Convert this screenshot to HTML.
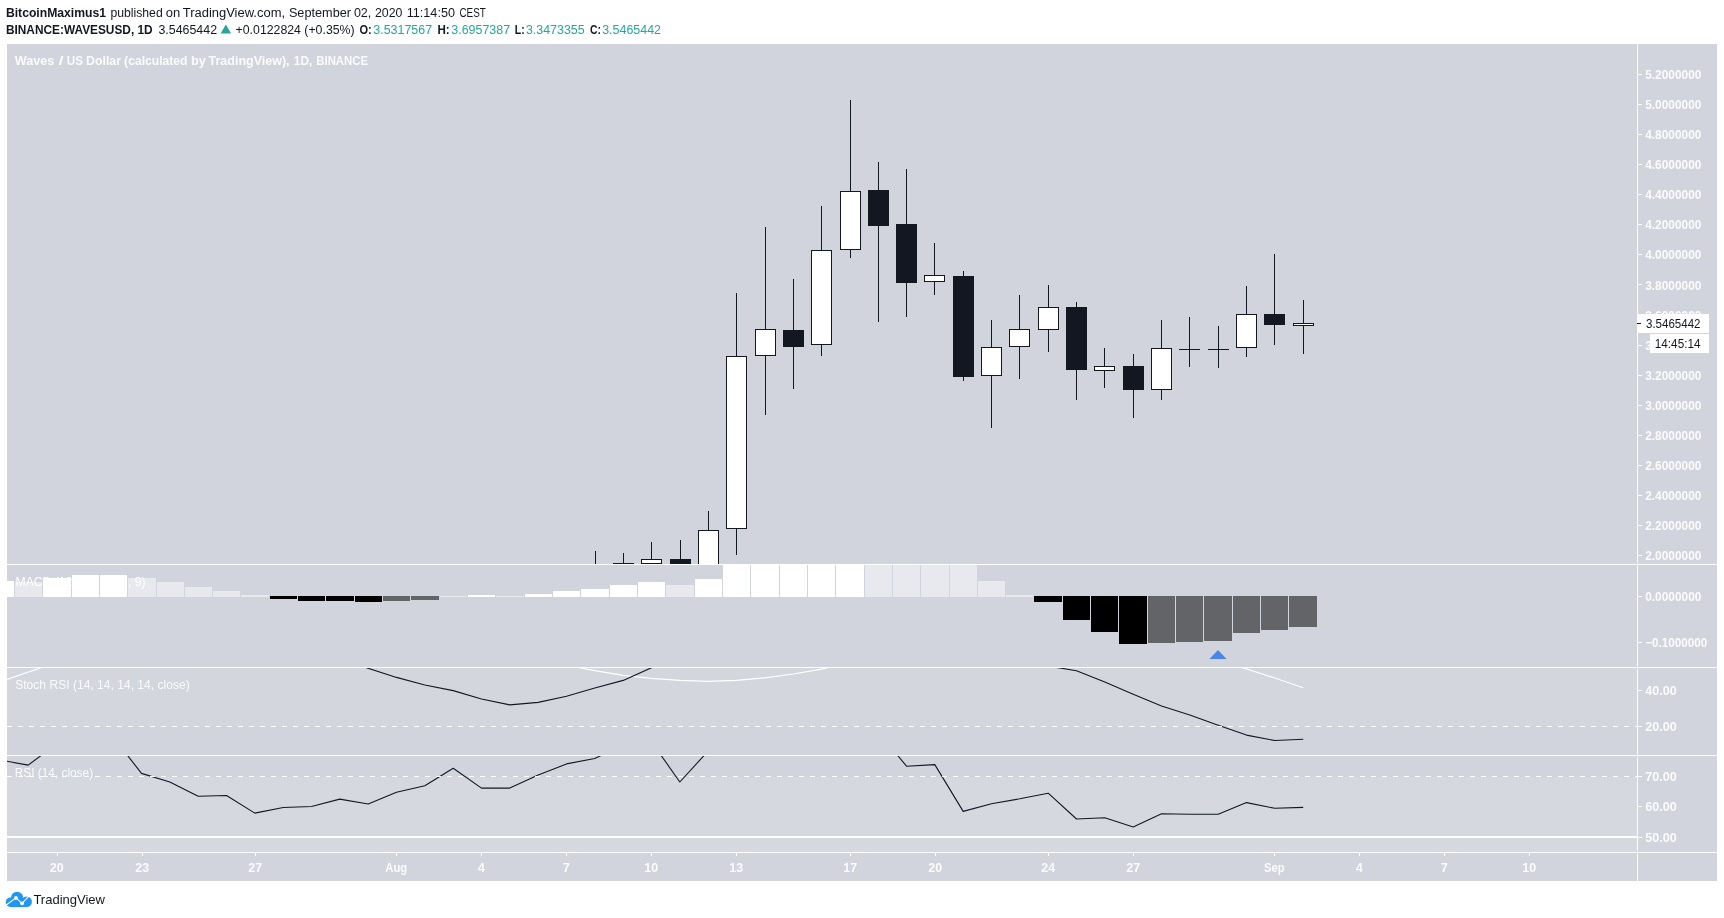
<!DOCTYPE html>
<html lang="en">
<head>
<meta charset="utf-8">
<title>WAVESUSD chart - TradingView</title>
<style>
html, body { margin: 0; padding: 0; background: #ffffff; }
body { width: 1724px; height: 918px; overflow: hidden; font-family: "Liberation Sans", sans-serif; }
svg { display: block; font-family: "Liberation Sans", sans-serif; will-change: transform; }
text { white-space: pre; }
</style>
</head>
<body>
<svg width="1724" height="918" viewBox="0 0 1724 918">
<defs>
<clipPath id="cpMain"><rect x="7" y="44" width="1630" height="520"/></clipPath>
<clipPath id="cpStoch"><rect x="7" y="668" width="1630" height="87"/></clipPath>
<clipPath id="cpRsi"><rect x="7" y="756" width="1630" height="96"/></clipPath>
</defs>
<rect x="7" y="44" width="1710" height="837" fill="#d1d4dc" />
<rect x="7" y="668" width="1630" height="58" fill="#ffffff" opacity="0.05"/>
<rect x="7" y="777" width="1630" height="75" fill="#ffffff" opacity="0.11"/>
<g shape-rendering="crispEdges">
<rect x="7" y="581" width="7" height="16" fill="#ffffff" />
<rect x="15" y="582" width="27" height="15" fill="#e8e9ee" />
<rect x="43" y="578" width="28" height="19" fill="#ffffff" />
<rect x="72" y="575" width="27" height="22" fill="#ffffff" />
<rect x="100" y="575" width="27" height="22" fill="#ffffff" />
<rect x="128" y="578" width="28" height="19" fill="#e8e9ee" />
<rect x="157" y="582" width="27" height="15" fill="#e8e9ee" />
<rect x="185" y="587" width="27" height="10" fill="#e8e9ee" />
<rect x="213" y="591" width="27" height="6" fill="#e8e9ee" />
<rect x="241" y="595" width="28" height="2" fill="#e8e9ee" />
<rect x="270" y="596" width="27" height="3" fill="#000000" />
<rect x="298" y="596" width="27" height="5" fill="#000000" />
<rect x="326" y="596" width="28" height="5" fill="#000000" />
<rect x="355" y="596" width="27" height="6" fill="#000000" />
<rect x="383" y="596" width="27" height="5" fill="#636468" />
<rect x="411" y="596" width="28" height="4" fill="#636468" />
<rect x="440" y="596" width="27" height="1" fill="#e8e9ee" />
<rect x="468" y="595" width="27" height="2" fill="#ffffff" />
<rect x="496" y="596" width="28" height="1" fill="#e8e9ee" />
<rect x="525" y="594" width="27" height="3" fill="#ffffff" />
<rect x="553" y="591" width="27" height="6" fill="#ffffff" />
<rect x="581" y="589" width="28" height="8" fill="#ffffff" />
<rect x="610" y="585" width="27" height="12" fill="#ffffff" />
<rect x="638" y="582" width="27" height="15" fill="#ffffff" />
<rect x="666" y="585" width="28" height="12" fill="#e8e9ee" />
<rect x="695" y="579" width="27" height="18" fill="#ffffff" />
<rect x="723" y="565" width="27" height="32" fill="#ffffff" />
<rect x="751" y="565" width="28" height="32" fill="#ffffff" />
<rect x="780" y="565" width="27" height="32" fill="#ffffff" />
<rect x="808" y="565" width="27" height="32" fill="#ffffff" />
<rect x="836" y="565" width="28" height="32" fill="#ffffff" />
<rect x="865" y="565" width="27" height="32" fill="#e8e9ee" />
<rect x="893" y="565" width="27" height="32" fill="#e8e9ee" />
<rect x="921" y="565" width="28" height="32" fill="#e8e9ee" />
<rect x="950" y="565" width="27" height="32" fill="#e8e9ee" />
<rect x="978" y="581" width="27" height="16" fill="#e8e9ee" />
<rect x="1006" y="595" width="27" height="2" fill="#e8e9ee" />
<rect x="1034" y="596" width="28" height="6" fill="#000000" />
<rect x="1063" y="596" width="27" height="24" fill="#000000" />
<rect x="1091" y="596" width="27" height="36" fill="#000000" />
<rect x="1119" y="596" width="28" height="48" fill="#000000" />
<rect x="1148" y="596" width="27" height="47" fill="#636468" />
<rect x="1176" y="596" width="27" height="46" fill="#636468" />
<rect x="1204" y="596" width="28" height="45" fill="#636468" />
<rect x="1233" y="596" width="27" height="37" fill="#636468" />
<rect x="1261" y="596" width="27" height="34" fill="#636468" />
<rect x="1289" y="596" width="28" height="31" fill="#636468" />
</g>
<text x="15.5" y="586" font-size="12.5" font-weight="normal" fill="#ffffff" text-anchor="start" textLength="130" lengthAdjust="spacingAndGlyphs" >MACD (12, 26, close, 9)</text>
<path d="M1218 650 L1226.5 659 L1209.5 659 Z" fill="#4985e7"/>
<g shape-rendering="crispEdges" clip-path="url(#cpMain)">
<rect x="595" y="551" width="1" height="13" fill="#131722" />
<rect x="623" y="553" width="1" height="11" fill="#131722" />
<rect x="613" y="563" width="21" height="1" fill="#131722" />
<rect x="651" y="542" width="1" height="22" fill="#131722" />
<rect x="641" y="559" width="21" height="5" fill="#131722" />
<rect x="642" y="560" width="19" height="3" fill="#ffffff" />
<rect x="680" y="540" width="1" height="24" fill="#131722" />
<rect x="670" y="559" width="21" height="5" fill="#131722" />
<rect x="708" y="511" width="1" height="55" fill="#131722" />
<rect x="698" y="530" width="21" height="36" fill="#131722" />
<rect x="699" y="531" width="19" height="34" fill="#ffffff" />
<rect x="736" y="293" width="1" height="262" fill="#131722" />
<rect x="726" y="356" width="21" height="173" fill="#131722" />
<rect x="727" y="357" width="19" height="171" fill="#ffffff" />
<rect x="765" y="227" width="1" height="188" fill="#131722" />
<rect x="755" y="329" width="21" height="27" fill="#131722" />
<rect x="756" y="330" width="19" height="25" fill="#ffffff" />
<rect x="793" y="279" width="1" height="110" fill="#131722" />
<rect x="783" y="330" width="21" height="17" fill="#131722" />
<rect x="821" y="206" width="1" height="150" fill="#131722" />
<rect x="811" y="250" width="21" height="95" fill="#131722" />
<rect x="812" y="251" width="19" height="93" fill="#ffffff" />
<rect x="850" y="100" width="1" height="158" fill="#131722" />
<rect x="840" y="191" width="21" height="59" fill="#131722" />
<rect x="841" y="192" width="19" height="57" fill="#ffffff" />
<rect x="878" y="162" width="1" height="160" fill="#131722" />
<rect x="868" y="190" width="21" height="36" fill="#131722" />
<rect x="906" y="169" width="1" height="148" fill="#131722" />
<rect x="896" y="224" width="21" height="59" fill="#131722" />
<rect x="934" y="243" width="1" height="52" fill="#131722" />
<rect x="924" y="275" width="21" height="7" fill="#131722" />
<rect x="925" y="276" width="19" height="5" fill="#ffffff" />
<rect x="963" y="271" width="1" height="110" fill="#131722" />
<rect x="953" y="276" width="21" height="101" fill="#131722" />
<rect x="991" y="320" width="1" height="108" fill="#131722" />
<rect x="981" y="347" width="21" height="29" fill="#131722" />
<rect x="982" y="348" width="19" height="27" fill="#ffffff" />
<rect x="1019" y="295" width="1" height="84" fill="#131722" />
<rect x="1009" y="329" width="21" height="18" fill="#131722" />
<rect x="1010" y="330" width="19" height="16" fill="#ffffff" />
<rect x="1048" y="285" width="1" height="67" fill="#131722" />
<rect x="1038" y="307" width="21" height="23" fill="#131722" />
<rect x="1039" y="308" width="19" height="21" fill="#ffffff" />
<rect x="1076" y="302" width="1" height="98" fill="#131722" />
<rect x="1066" y="307" width="21" height="63" fill="#131722" />
<rect x="1104" y="348" width="1" height="40" fill="#131722" />
<rect x="1094" y="366" width="21" height="5" fill="#131722" />
<rect x="1095" y="367" width="19" height="3" fill="#ffffff" />
<rect x="1133" y="354" width="1" height="64" fill="#131722" />
<rect x="1123" y="366" width="21" height="24" fill="#131722" />
<rect x="1161" y="320" width="1" height="80" fill="#131722" />
<rect x="1151" y="348" width="21" height="42" fill="#131722" />
<rect x="1152" y="349" width="19" height="40" fill="#ffffff" />
<rect x="1189" y="317" width="1" height="50" fill="#131722" />
<rect x="1179" y="349" width="21" height="1" fill="#131722" />
<rect x="1218" y="326" width="1" height="42" fill="#131722" />
<rect x="1208" y="349" width="21" height="1" fill="#131722" />
<rect x="1246" y="286" width="1" height="71" fill="#131722" />
<rect x="1236" y="314" width="21" height="34" fill="#131722" />
<rect x="1237" y="315" width="19" height="32" fill="#ffffff" />
<rect x="1274" y="254" width="1" height="91" fill="#131722" />
<rect x="1264" y="314" width="21" height="11" fill="#131722" />
<rect x="1303" y="300" width="1" height="54" fill="#131722" />
<rect x="1293" y="323" width="21" height="3" fill="#131722" />
<rect x="1294" y="324" width="19" height="1" fill="#ffffff" />
</g>
<polyline points="7.0,679.4 41.8,667.5 60.0,661.0" fill="none" stroke="#ffffff" stroke-width="1.2" stroke-linejoin="round" stroke-linecap="butt" clip-path="url(#cpStoch)"/>
<polyline points="565.0,660.0 579.5,667.7 594.8,670.7 623.2,675.3 651.5,678.4 679.8,680.4 708.2,681.4 736.5,680.4 764.8,677.9 793.2,674.0 821.5,669.2 828.5,667.5 849.8,662.0" fill="none" stroke="#ffffff" stroke-width="1.2" stroke-linejoin="round" stroke-linecap="butt" clip-path="url(#cpStoch)"/>
<polyline points="1220.0,660.0 1242.5,667.6 1274.8,678.0 1303.3,687.7" fill="none" stroke="#ffffff" stroke-width="1.2" stroke-linejoin="round" stroke-linecap="butt" clip-path="url(#cpStoch)"/>
<polyline points="340.0,658.0 366.4,667.7 396.5,677.4 424.8,685.0 453.2,690.6 481.5,699.0 509.8,704.9 538.2,702.4 566.5,696.2 594.8,688.0 623.2,680.4 651.5,667.7 679.8,655.0" fill="none" stroke="#131722" stroke-width="1.1" stroke-linejoin="round" stroke-linecap="butt" clip-path="url(#cpStoch)"/>
<polyline points="1030.0,664.0 1058.2,667.7 1076.5,670.7 1104.8,682.0 1133.2,694.2 1161.5,705.9 1189.8,714.9 1218.2,725.3 1246.5,735.1 1274.8,740.5 1303.2,739.3" fill="none" stroke="#131722" stroke-width="1.1" stroke-linejoin="round" stroke-linecap="butt" clip-path="url(#cpStoch)"/>
<polyline points="7.0,761.3 28.2,765.1 56.5,744.0 84.8,735.0 113.2,737.0 141.5,773.4 169.8,782.0 198.2,796.3 226.5,795.5 254.8,813.1 283.2,807.5 311.5,806.5 339.8,799.1 368.2,804.0 396.5,792.2 424.8,785.8 453.2,768.2 481.5,788.1 509.8,788.1 538.2,774.9 566.5,763.9 594.8,758.5 623.2,744.8 651.5,741.7 679.8,782.0 708.2,751.0 736.5,720.0 849.8,700.0 878.2,731.7 906.5,766.2 934.8,764.6 963.2,811.4 991.5,803.7 1019.8,798.8 1048.2,793.2 1076.5,819.0 1104.8,817.7 1133.2,826.9 1161.5,813.7 1189.8,814.2 1218.2,814.3 1246.5,802.6 1274.8,808.3 1303.2,807.4" fill="none" stroke="#131722" stroke-width="1.1" stroke-linejoin="round" stroke-linecap="butt" clip-path="url(#cpRsi)"/>
<g shape-rendering="crispEdges" fill="#ffffff">
<rect x="7" y="564" width="1710" height="1" fill="#ffffff" />
<rect x="7" y="667" width="1710" height="1" fill="#ffffff" />
<rect x="7" y="755" width="1710" height="1" fill="#ffffff" />
<rect x="7" y="852" width="1710" height="1" fill="#ffffff" />
<rect x="1637" y="44" width="1" height="837" fill="#ffffff" />
<rect x="7" y="836" width="1630" height="2" fill="#ffffff" />
</g>
<path d="M7 726.5 H1637" stroke="#ffffff" stroke-width="1" stroke-dasharray="5 6" shape-rendering="crispEdges"/>
<path d="M7 776.5 H1637" stroke="#ffffff" stroke-width="1" stroke-dasharray="5 6" shape-rendering="crispEdges"/>
<g shape-rendering="crispEdges">
<rect x="1638" y="74" width="4" height="1" fill="#ffffff" />
<rect x="1638" y="104" width="4" height="1" fill="#ffffff" />
<rect x="1638" y="134" width="4" height="1" fill="#ffffff" />
<rect x="1638" y="164" width="4" height="1" fill="#ffffff" />
<rect x="1638" y="194" width="4" height="1" fill="#ffffff" />
<rect x="1638" y="224" width="4" height="1" fill="#ffffff" />
<rect x="1638" y="254" width="4" height="1" fill="#ffffff" />
<rect x="1638" y="284" width="4" height="1" fill="#ffffff" />
<rect x="1638" y="314" width="4" height="1" fill="#ffffff" />
<rect x="1638" y="345" width="4" height="1" fill="#ffffff" />
<rect x="1638" y="375" width="4" height="1" fill="#ffffff" />
<rect x="1638" y="405" width="4" height="1" fill="#ffffff" />
<rect x="1638" y="435" width="4" height="1" fill="#ffffff" />
<rect x="1638" y="465" width="4" height="1" fill="#ffffff" />
<rect x="1638" y="495" width="4" height="1" fill="#ffffff" />
<rect x="1638" y="525" width="4" height="1" fill="#ffffff" />
<rect x="1638" y="555" width="4" height="1" fill="#ffffff" />
<rect x="1638" y="596" width="4" height="1" fill="#ffffff" />
<rect x="1638" y="642" width="4" height="1" fill="#ffffff" />
<rect x="1638" y="690" width="4" height="1" fill="#ffffff" />
<rect x="1638" y="726" width="4" height="1" fill="#ffffff" />
<rect x="1638" y="776" width="4" height="1" fill="#ffffff" />
<rect x="1638" y="806" width="4" height="1" fill="#ffffff" />
<rect x="1638" y="837" width="4" height="1" fill="#ffffff" />
</g>
<text x="1645.2" y="79.1" font-size="12.3" font-weight="bold" fill="#fbfbfd" text-anchor="start" textLength="56.2" lengthAdjust="spacingAndGlyphs" >5.2000000</text>
<text x="1645.2" y="109.16" font-size="12.3" font-weight="bold" fill="#fbfbfd" text-anchor="start" textLength="56.2" lengthAdjust="spacingAndGlyphs" >5.0000000</text>
<text x="1645.2" y="139.22" font-size="12.3" font-weight="bold" fill="#fbfbfd" text-anchor="start" textLength="56.2" lengthAdjust="spacingAndGlyphs" >4.8000000</text>
<text x="1645.2" y="169.28" font-size="12.3" font-weight="bold" fill="#fbfbfd" text-anchor="start" textLength="56.2" lengthAdjust="spacingAndGlyphs" >4.6000000</text>
<text x="1645.2" y="199.34" font-size="12.3" font-weight="bold" fill="#fbfbfd" text-anchor="start" textLength="56.2" lengthAdjust="spacingAndGlyphs" >4.4000000</text>
<text x="1645.2" y="229.4" font-size="12.3" font-weight="bold" fill="#fbfbfd" text-anchor="start" textLength="56.2" lengthAdjust="spacingAndGlyphs" >4.2000000</text>
<text x="1645.2" y="259.46" font-size="12.3" font-weight="bold" fill="#fbfbfd" text-anchor="start" textLength="56.2" lengthAdjust="spacingAndGlyphs" >4.0000000</text>
<text x="1645.2" y="289.52" font-size="12.3" font-weight="bold" fill="#fbfbfd" text-anchor="start" textLength="56.2" lengthAdjust="spacingAndGlyphs" >3.8000000</text>
<text x="1645.2" y="319.58" font-size="12.3" font-weight="bold" fill="#fbfbfd" text-anchor="start" textLength="56.2" lengthAdjust="spacingAndGlyphs" >3.6000000</text>
<text x="1645.2" y="349.64" font-size="12.3" font-weight="bold" fill="#fbfbfd" text-anchor="start" textLength="56.2" lengthAdjust="spacingAndGlyphs" >3.4000000</text>
<text x="1645.2" y="379.7" font-size="12.3" font-weight="bold" fill="#fbfbfd" text-anchor="start" textLength="56.2" lengthAdjust="spacingAndGlyphs" >3.2000000</text>
<text x="1645.2" y="409.76" font-size="12.3" font-weight="bold" fill="#fbfbfd" text-anchor="start" textLength="56.2" lengthAdjust="spacingAndGlyphs" >3.0000000</text>
<text x="1645.2" y="439.82" font-size="12.3" font-weight="bold" fill="#fbfbfd" text-anchor="start" textLength="56.2" lengthAdjust="spacingAndGlyphs" >2.8000000</text>
<text x="1645.2" y="469.88" font-size="12.3" font-weight="bold" fill="#fbfbfd" text-anchor="start" textLength="56.2" lengthAdjust="spacingAndGlyphs" >2.6000000</text>
<text x="1645.2" y="499.94" font-size="12.3" font-weight="bold" fill="#fbfbfd" text-anchor="start" textLength="56.2" lengthAdjust="spacingAndGlyphs" >2.4000000</text>
<text x="1645.2" y="530" font-size="12.3" font-weight="bold" fill="#fbfbfd" text-anchor="start" textLength="56.2" lengthAdjust="spacingAndGlyphs" >2.2000000</text>
<text x="1645.2" y="560.06" font-size="12.3" font-weight="bold" fill="#fbfbfd" text-anchor="start" textLength="56.2" lengthAdjust="spacingAndGlyphs" >2.0000000</text>
<text x="1645.2" y="601.1" font-size="12.3" font-weight="bold" fill="#fbfbfd" text-anchor="start" textLength="56.2" lengthAdjust="spacingAndGlyphs" >0.0000000</text>
<text x="1645.2" y="647.1" font-size="12.3" font-weight="bold" fill="#fbfbfd" text-anchor="start" textLength="62.2" lengthAdjust="spacingAndGlyphs" >−0.1000000</text>
<text x="1645.2" y="695.3" font-size="12.3" font-weight="bold" fill="#fbfbfd" text-anchor="start" textLength="31.6" lengthAdjust="spacingAndGlyphs" >40.00</text>
<text x="1645.2" y="731.1" font-size="12.3" font-weight="bold" fill="#fbfbfd" text-anchor="start" textLength="31.6" lengthAdjust="spacingAndGlyphs" >20.00</text>
<text x="1645.2" y="781.1" font-size="12.3" font-weight="bold" fill="#fbfbfd" text-anchor="start" textLength="31.6" lengthAdjust="spacingAndGlyphs" >70.00</text>
<text x="1645.2" y="811.4" font-size="12.3" font-weight="bold" fill="#fbfbfd" text-anchor="start" textLength="31.6" lengthAdjust="spacingAndGlyphs" >60.00</text>
<text x="1645.2" y="842.1" font-size="12.3" font-weight="bold" fill="#fbfbfd" text-anchor="start" textLength="31.6" lengthAdjust="spacingAndGlyphs" >50.00</text>
<rect x="1638" y="314" width="71" height="19" fill="#ffffff" shape-rendering="crispEdges"/>
<rect x="1637" y="323" width="4" height="1" fill="#131722" shape-rendering="crispEdges"/>
<text x="1646" y="327.7" font-size="12" font-weight="normal" fill="#131722" text-anchor="start" textLength="54.5" lengthAdjust="spacingAndGlyphs" >3.5465442</text>
<rect x="1650" y="334" width="59" height="19" fill="#ffffff" shape-rendering="crispEdges"/>
<text x="1654.8" y="348.1" font-size="12" font-weight="normal" fill="#131722" text-anchor="start" textLength="45.7" lengthAdjust="spacingAndGlyphs" >14:45:14</text>
<g shape-rendering="crispEdges">
<rect x="57" y="853" width="1" height="3" fill="#ffffff" />
<rect x="142" y="853" width="1" height="3" fill="#ffffff" />
<rect x="255" y="853" width="1" height="3" fill="#ffffff" />
<rect x="396" y="853" width="1" height="3" fill="#ffffff" />
<rect x="481" y="853" width="1" height="3" fill="#ffffff" />
<rect x="566" y="853" width="1" height="3" fill="#ffffff" />
<rect x="651" y="853" width="1" height="3" fill="#ffffff" />
<rect x="736" y="853" width="1" height="3" fill="#ffffff" />
<rect x="850" y="853" width="1" height="3" fill="#ffffff" />
<rect x="935" y="853" width="1" height="3" fill="#ffffff" />
<rect x="1048" y="853" width="1" height="3" fill="#ffffff" />
<rect x="1133" y="853" width="1" height="3" fill="#ffffff" />
<rect x="1274" y="853" width="1" height="3" fill="#ffffff" />
<rect x="1359" y="853" width="1" height="3" fill="#ffffff" />
<rect x="1444" y="853" width="1" height="3" fill="#ffffff" />
<rect x="1529" y="853" width="1" height="3" fill="#ffffff" />
</g>
<text x="56.7" y="872" font-size="12.8" font-weight="bold" fill="#fbfbfd" text-anchor="middle" textLength="13.9" lengthAdjust="spacingAndGlyphs" >20</text>
<text x="142.3" y="872" font-size="12.8" font-weight="bold" fill="#fbfbfd" text-anchor="middle" textLength="13.9" lengthAdjust="spacingAndGlyphs" >23</text>
<text x="255.3" y="872" font-size="12.8" font-weight="bold" fill="#fbfbfd" text-anchor="middle" textLength="13.9" lengthAdjust="spacingAndGlyphs" >27</text>
<text x="396.3" y="872" font-size="12.8" font-weight="bold" fill="#fbfbfd" text-anchor="middle" textLength="21.9" lengthAdjust="spacingAndGlyphs" >Aug</text>
<text x="481.3" y="872" font-size="12.8" font-weight="bold" fill="#fbfbfd" text-anchor="middle" >4</text>
<text x="566.3" y="872" font-size="12.8" font-weight="bold" fill="#fbfbfd" text-anchor="middle" >7</text>
<text x="651.3" y="872" font-size="12.8" font-weight="bold" fill="#fbfbfd" text-anchor="middle" textLength="13.9" lengthAdjust="spacingAndGlyphs" >10</text>
<text x="736.3" y="872" font-size="12.8" font-weight="bold" fill="#fbfbfd" text-anchor="middle" textLength="13.9" lengthAdjust="spacingAndGlyphs" >13</text>
<text x="850.3" y="872" font-size="12.8" font-weight="bold" fill="#fbfbfd" text-anchor="middle" textLength="13.9" lengthAdjust="spacingAndGlyphs" >17</text>
<text x="935.3" y="872" font-size="12.8" font-weight="bold" fill="#fbfbfd" text-anchor="middle" textLength="13.9" lengthAdjust="spacingAndGlyphs" >20</text>
<text x="1048.3" y="872" font-size="12.8" font-weight="bold" fill="#fbfbfd" text-anchor="middle" textLength="13.9" lengthAdjust="spacingAndGlyphs" >24</text>
<text x="1133.3" y="872" font-size="12.8" font-weight="bold" fill="#fbfbfd" text-anchor="middle" textLength="13.9" lengthAdjust="spacingAndGlyphs" >27</text>
<text x="1274.3" y="872" font-size="12.8" font-weight="bold" fill="#fbfbfd" text-anchor="middle" textLength="20.7" lengthAdjust="spacingAndGlyphs" >Sep</text>
<text x="1359.3" y="872" font-size="12.8" font-weight="bold" fill="#fbfbfd" text-anchor="middle" >4</text>
<text x="1444.3" y="872" font-size="12.8" font-weight="bold" fill="#fbfbfd" text-anchor="middle" >7</text>
<text x="1529.3" y="872" font-size="12.8" font-weight="bold" fill="#fbfbfd" text-anchor="middle" textLength="13.9" lengthAdjust="spacingAndGlyphs" >10</text>
<text x="14.8" y="65.2" font-size="12.5" font-weight="bold" fill="#fbfbfd" text-anchor="start" textLength="39.6" lengthAdjust="spacingAndGlyphs" >Waves</text>
<text x="58.4" y="65.2" font-size="12.5" font-weight="bold" fill="#fbfbfd" text-anchor="start" textLength="5.2" lengthAdjust="spacingAndGlyphs" >/</text>
<text x="66.8" y="65.2" font-size="12.5" font-weight="bold" fill="#fbfbfd" text-anchor="start" textLength="16.3" lengthAdjust="spacingAndGlyphs" >US</text>
<text x="86" y="65.2" font-size="12.5" font-weight="bold" fill="#fbfbfd" text-anchor="start" textLength="35" lengthAdjust="spacingAndGlyphs" >Dollar</text>
<text x="124.1" y="65.2" font-size="12.5" font-weight="bold" fill="#fbfbfd" text-anchor="start" textLength="63.4" lengthAdjust="spacingAndGlyphs" >(calculated</text>
<text x="190.9" y="65.2" font-size="12.5" font-weight="bold" fill="#fbfbfd" text-anchor="start" textLength="14.9" lengthAdjust="spacingAndGlyphs" >by</text>
<text x="208.5" y="65.2" font-size="12.5" font-weight="bold" fill="#fbfbfd" text-anchor="start" textLength="81.1" lengthAdjust="spacingAndGlyphs" >TradingView),</text>
<text x="293.8" y="65.2" font-size="12.5" font-weight="bold" fill="#fbfbfd" text-anchor="start" textLength="18.5" lengthAdjust="spacingAndGlyphs" >1D,</text>
<text x="316.3" y="65.2" font-size="12.5" font-weight="bold" fill="#fbfbfd" text-anchor="start" textLength="51.7" lengthAdjust="spacingAndGlyphs" >BINANCE</text>
<text x="15.2" y="689" font-size="12.5" font-weight="normal" fill="#fbfbfd" text-anchor="start" textLength="174.5" lengthAdjust="spacingAndGlyphs" >Stoch RSI (14, 14, 14, 14, close)</text>
<text x="14.7" y="777" font-size="12.5" font-weight="normal" fill="#fbfbfd" text-anchor="start" textLength="78.4" lengthAdjust="spacingAndGlyphs" >RSI (14, close)</text>
<text x="5.9" y="16.7" font-size="12" font-weight="bold" fill="#131722" text-anchor="start" textLength="100.2" lengthAdjust="spacingAndGlyphs" >BitcoinMaximus1</text>
<text x="110.4" y="16.7" font-size="12" font-weight="normal" fill="#131722" text-anchor="start" textLength="52.3" lengthAdjust="spacingAndGlyphs" >published</text>
<text x="165.8" y="16.7" font-size="12" font-weight="normal" fill="#131722" text-anchor="start" textLength="14.5" lengthAdjust="spacingAndGlyphs" >on</text>
<text x="182.7" y="16.7" font-size="12" font-weight="normal" fill="#131722" text-anchor="start" textLength="102.4" lengthAdjust="spacingAndGlyphs" >TradingView.com,</text>
<text x="288.9" y="16.7" font-size="12" font-weight="normal" fill="#131722" text-anchor="start" textLength="62.1" lengthAdjust="spacingAndGlyphs" >September</text>
<text x="353.9" y="16.7" font-size="12" font-weight="normal" fill="#131722" text-anchor="start" textLength="17.4" lengthAdjust="spacingAndGlyphs" >02,</text>
<text x="375" y="16.7" font-size="12" font-weight="normal" fill="#131722" text-anchor="start" textLength="27.4" lengthAdjust="spacingAndGlyphs" >2020</text>
<text x="406.7" y="16.7" font-size="12" font-weight="normal" fill="#131722" text-anchor="start" textLength="48.3" lengthAdjust="spacingAndGlyphs" >11:14:50</text>
<text x="459.4" y="16.7" font-size="12" font-weight="normal" fill="#131722" text-anchor="start" textLength="26.4" lengthAdjust="spacingAndGlyphs" >CEST</text>
<text x="5.9" y="33.6" font-size="12" font-weight="bold" fill="#131722" text-anchor="start" textLength="146.8" lengthAdjust="spacingAndGlyphs" >BINANCE:WAVESUSD, 1D</text>
<text x="158.4" y="33.6" font-size="12" font-weight="normal" fill="#131722" text-anchor="start" textLength="58.7" lengthAdjust="spacingAndGlyphs" >3.5465442</text>
<path d="M220.6 33.6 L225.85 24.6 L231.1 33.6 Z" fill="#26a69a"/>
<text x="235.6" y="33.6" font-size="12" font-weight="normal" fill="#131722" text-anchor="start" textLength="119" lengthAdjust="spacingAndGlyphs" >+0.0122824 (+0.35%)</text>
<text x="359.4" y="33.6" font-size="12" font-weight="bold" fill="#131722" text-anchor="start" textLength="12.3" lengthAdjust="spacingAndGlyphs" >O:</text>
<text x="373.3" y="33.6" font-size="12" font-weight="normal" fill="#26a69a" text-anchor="start" textLength="58.8" lengthAdjust="spacingAndGlyphs" >3.5317567</text>
<text x="437.4" y="33.6" font-size="12" font-weight="bold" fill="#131722" text-anchor="start" textLength="12.2" lengthAdjust="spacingAndGlyphs" >H:</text>
<text x="451.3" y="33.6" font-size="12" font-weight="normal" fill="#26a69a" text-anchor="start" textLength="58.8" lengthAdjust="spacingAndGlyphs" >3.6957387</text>
<text x="514.8" y="33.6" font-size="12" font-weight="bold" fill="#131722" text-anchor="start" textLength="9.8" lengthAdjust="spacingAndGlyphs" >L:</text>
<text x="525.9" y="33.6" font-size="12" font-weight="normal" fill="#26a69a" text-anchor="start" textLength="58.8" lengthAdjust="spacingAndGlyphs" >3.3473355</text>
<text x="589.9" y="33.6" font-size="12" font-weight="bold" fill="#131722" text-anchor="start" textLength="11" lengthAdjust="spacingAndGlyphs" >C:</text>
<text x="602.2" y="33.6" font-size="12" font-weight="normal" fill="#26a69a" text-anchor="start" textLength="58.8" lengthAdjust="spacingAndGlyphs" >3.5465442</text>
<g>
<g fill="#2196f3"><circle cx="10.5" cy="902.2" r="4.75"/><circle cx="17.1" cy="897.9" r="6.1"/><circle cx="26.6" cy="901.75" r="5.3"/><rect x="10.5" y="900" width="16.1" height="7.05"/></g>
<path d="M6.2 905 L15.9 897.9 L22.1 903.3 L28.6 896.4" fill="none" stroke="#ffffff" stroke-width="1.1"/>
<circle cx="15.9" cy="897.9" r="1.9" fill="#ffffff"/><circle cx="22.1" cy="903.3" r="1.9" fill="#ffffff"/>
</g>
<text x="33.4" y="904" font-size="13" font-weight="normal" fill="#131722" text-anchor="start" textLength="71.6" lengthAdjust="spacingAndGlyphs" >TradingView</text>
</svg>
</body>
</html>
